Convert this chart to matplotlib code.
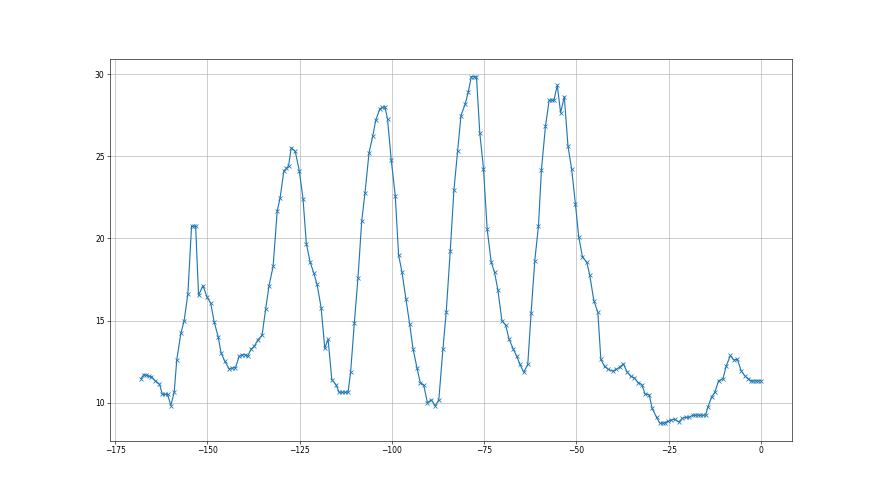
import matplotlib
matplotlib.use("Agg")
import matplotlib.pyplot as plt

x_vals = [
    -168.0, -167.3, -166.6, -165.9, -165.2, -164.1, -163.0, -162.2, -161.5, -160.8,
    -159.9, -159.0, -158.3, -157.2, -156.3, -155.3, -154.3, -153.7, -153.2, -152.4,
    -151.2, -150.1, -149.1, -148.2, -147.1, -146.3, -145.3, -144.1, -143.3, -142.4,
    -141.4, -140.5, -139.8, -139.1, -138.2, -137.3, -136.3, -135.2, -134.2, -133.3,
    -132.2, -131.1, -130.3, -129.3, -128.6, -128.0, -127.3, -126.2, -125.1, -124.1,
    -123.2, -122.2, -121.2, -120.3, -119.2, -118.2, -117.3, -116.3, -115.2, -114.3,
    -113.5, -112.8, -111.9, -111.2, -110.2, -109.2, -108.2, -107.3, -106.2, -105.2,
    -104.4, -103.3, -102.6, -101.9, -101.2, -100.2, -99.1, -98.2, -97.3, -96.2,
    -95.2, -94.3, -93.2, -92.3, -91.4, -90.4, -89.3, -88.3, -87.3, -86.2,
    -85.3, -84.2, -83.2, -82.2, -81.3, -80.2, -79.3, -78.5, -77.8, -77.1,
    -76.2, -75.2, -74.2, -73.1, -72.2, -71.3, -70.2, -69.2, -68.3, -67.1,
    -66.2, -65.3, -64.3, -63.2, -62.3, -61.3, -60.3, -59.5, -58.4, -57.4,
    -56.7, -56.1, -55.2, -54.3, -53.3, -52.3, -51.3, -50.3, -49.4, -48.4,
    -47.2, -46.4, -45.3, -44.2, -43.4, -42.4, -41.4, -40.2, -39.2, -38.3,
    -37.3, -36.3, -35.3, -34.3, -33.3, -32.3, -31.4, -30.3, -29.5, -28.3,
    -27.4, -26.6, -26.0, -25.1, -24.3, -23.4, -22.3, -21.3, -20.4, -19.5,
    -18.5, -17.8, -17.1, -16.4, -15.7, -15.0, -14.4, -13.4, -12.5, -11.5,
    -10.3, -9.4, -8.3, -7.4, -6.4, -5.4, -4.4, -3.4, -2.8, -2.1,
    -1.4, -0.7, 0.0,
]

y_vals = [
    11.45, 11.70, 11.68, 11.60, 11.58, 11.32, 11.12, 10.50, 10.50, 10.50,
    9.82, 10.65, 12.62, 14.21, 15.00, 16.63, 20.75, 20.75, 20.75, 16.54,
    17.13, 16.42, 16.06, 14.94, 14.02, 13.03, 12.52, 12.05, 12.11, 12.12,
    12.82, 12.92, 12.92, 12.82, 13.25, 13.43, 13.84, 14.10, 15.73, 17.13,
    18.30, 21.65, 22.49, 24.11, 24.27, 24.44, 25.53, 25.31, 24.11, 22.43,
    19.69, 18.59, 17.90, 17.21, 15.79, 13.31, 13.86, 11.40, 11.10, 10.62,
    10.63, 10.63, 10.63, 11.85, 14.84, 17.62, 21.04, 22.80, 25.24, 26.24,
    27.20, 27.90, 27.99, 28.03, 27.28, 24.80, 22.60, 19.00, 17.97, 16.30,
    14.78, 13.29, 12.09, 11.18, 11.08, 10.00, 10.16, 9.80, 10.16, 13.24,
    15.50, 19.25, 22.97, 25.36, 27.49, 28.17, 28.94, 29.86, 29.86, 29.86,
    26.44, 24.26, 20.57, 18.55, 17.94, 16.86, 14.99, 14.72, 13.89, 13.24,
    12.83, 12.32, 11.85, 12.32, 15.44, 18.64, 20.77, 24.17, 26.85, 28.43,
    28.43, 28.43, 29.35, 27.66, 28.64, 25.63, 24.21, 22.13, 20.12, 18.90,
    18.54, 17.76, 16.22, 15.49, 12.64, 12.20, 12.03, 11.91, 12.03, 12.15,
    12.36, 11.87, 11.60, 11.50, 11.22, 11.10, 10.51, 10.47, 9.65, 9.10,
    8.74, 8.74, 8.78, 8.86, 8.94, 8.98, 8.82, 9.04, 9.10, 9.10,
    9.23, 9.23, 9.23, 9.23, 9.23, 9.23, 9.72, 10.33, 10.63, 11.32,
    11.46, 12.24, 12.87, 12.60, 12.64, 11.95, 11.63, 11.44, 11.32, 11.32,
    11.32, 11.32, 11.32,
]

fig, ax = plt.subplots(figsize=(16, 9), dpi=55)
ax.plot(x_vals, y_vals, marker="x", color="#1f77b4")
ax.grid(True)
fig.savefig("out.png", dpi=55)
